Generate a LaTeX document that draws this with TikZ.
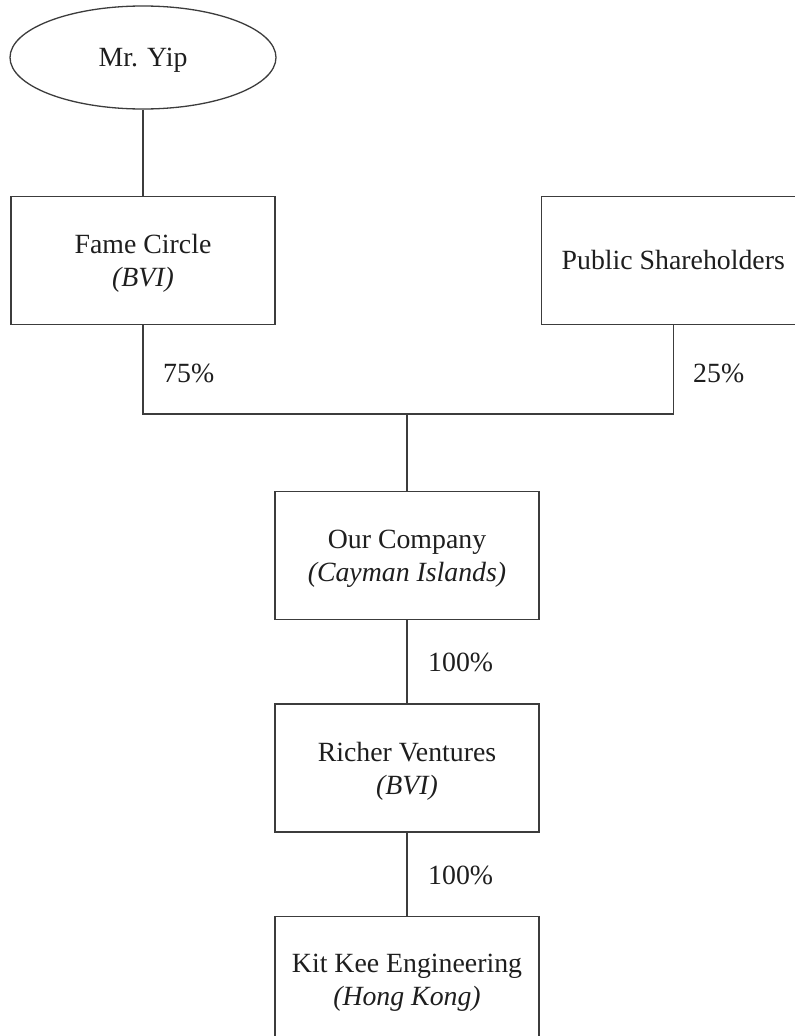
\documentclass[tikz,border=0pt]{standalone}
\usepackage{fontspec}
\setmainfont{Liberation Serif}
\usetikzlibrary{positioning, shapes.geometric}
\definecolor{chartline}{RGB}{60, 60, 60}
\definecolor{charttext}{RGB}{30, 30, 30}

\begin{document}
\begin{tikzpicture}[
    x=1pt, y=1pt,
    node distance=83pt,
    base/.style={draw=chartline, line width=1.3pt, text=charttext, align=center, inner sep=0pt,
                 text depth=0pt, font=\fontsize{27.8}{33}\selectfont},
    owner/.style={base, ellipse, minimum width=266pt, minimum height=103pt},
    entity/.style={base, rectangle, minimum width=264pt, minimum height=128pt},
    link/.style={draw=chartline, line width=1.3pt},
    share/.style={font=\fontsize{27.8}{33}\selectfont, text=charttext, inner sep=0pt, anchor=west},
]

\useasboundingbox (0,0) rectangle (795,-1036);

% Owner
\node[owner] (yip) at (143,-57.5) {Mr. Yip};

% Shareholders
\node[entity, below=86pt of yip] (fame) {Fame Circle\\\textit{(BVI)}};
\node[entity, right=265pt of fame] (public) {Public Shareholders};

% Join point
\coordinate (join) at (407,-414);

% Group
\node[entity, below=77pt of join] (company) {Our Company\\\textit{(Cayman Islands)}};
\node[entity, below=of company] (richer) {Richer Ventures\\\textit{(BVI)}};
\node[entity, below=of richer] (kitkee) {Kit Kee Engineering\\\textit{(Hong Kong)}};

% Edges
\draw[link] (yip) -- (fame);
\draw[link] (fame.south) |- (join) -| (public.south);
\draw[link] (join) -- (company);
\draw[link] (company) -- (richer);
\draw[link] (richer) -- (kitkee);

% Holding labels
\node[share] (p75) at (163,-373) {75\%};
\node[share] (p25) at (693,-373) {25\%};
\node[share] (p100a) at (428,-662) {100\%};
\node[share] (p100b) at (428,-875) {100\%};

\end{tikzpicture}
\end{document}
